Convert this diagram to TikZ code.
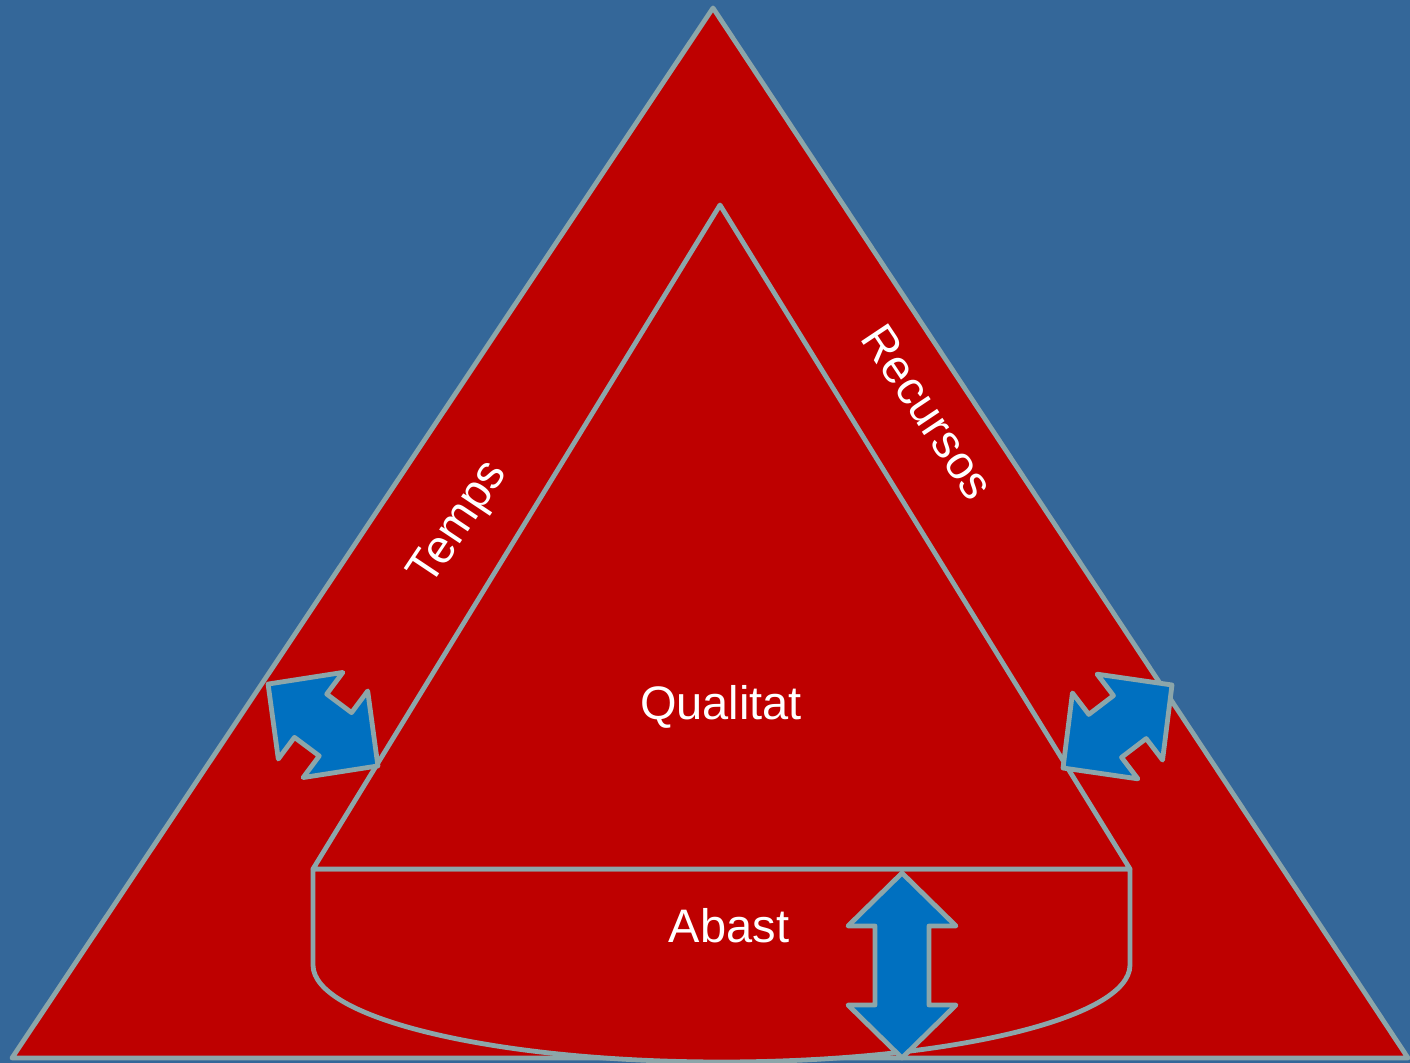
\documentclass[tikz,border=0pt]{standalone}
\usepackage{fontspec}
\setmainfont{Liberation Sans}
\definecolor{bgblue}{RGB}{52,103,153}
\definecolor{tred}{RGB}{190,0,0}
\definecolor{edgegray}{RGB}{140,166,170}
\definecolor{arrblue}{RGB}{0,112,192}
\tikzset{
  shapesty/.style={fill=tred, draw=edgegray, line width=2.4pt, line join=round},
  arrowsty/.style={fill=arrblue, draw=edgegray, line width=2.4pt, line join=round},
  lbl/.style={text=white, font=\fontsize{23.5}{28}\selectfont, inner sep=0pt},
  pics/dblarr/.style={code={
    \draw[arrowsty] (-#1,0) -- (-#1+53,54) -- (-#1+53,27) -- (#1-53,27) -- (#1-53,54) -- (#1,0)
      -- (#1-53,-54) -- (#1-53,-27) -- (-#1+53,-27) -- (-#1+53,-54) -- cycle;
  }}
}
\begin{document}
\begin{tikzpicture}[x=0.5pt,y=0.5pt]
\useasboundingbox (0,0) rectangle (1410,-1063);
\fill[bgblue] (0,0) rectangle (1410,-1063);
% outer triangle
\draw[shapesty] (713,-8) -- (1408,-1058) -- (12,-1058) -- cycle;
% bottom rounded part
\draw[shapesty] (313,-869) -- (313,-965) arc[start angle=180, end angle=360, x radius=408.5, y radius=97] -- (1130,-869) -- cycle;
% inner triangle
\draw[shapesty] (720,-205) -- (1130,-869) -- (313,-869) -- cycle;
% arrows
\pic[rotate=90] at (902,-965.5) {dblarr=92.5};
\pic[rotate=-36.7] at (323,-725) {dblarr=68.5};
\pic[rotate=37.3] at (1117.5,-726.5) {dblarr=68.5};
% labels
\node[lbl] (qual) at (721,-707) {Qualitat};
\node[lbl] (abast) at (729,-926) {Abast};
\node[lbl, rotate=56.3] (temps) at (460,-524) {Temps};
\node[lbl, rotate=-56.3] (rec) at (928,-412) {Recursos};
\end{tikzpicture}
\end{document}
